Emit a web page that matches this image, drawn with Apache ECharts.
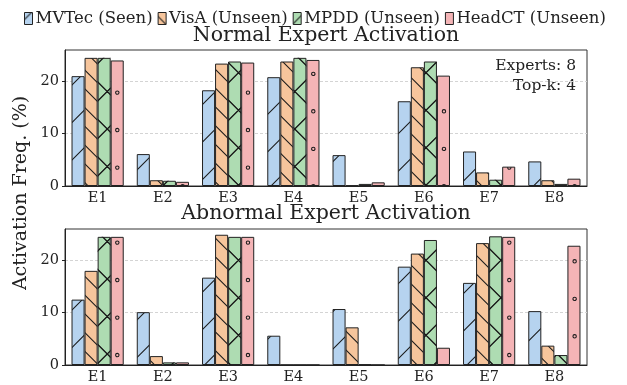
<!DOCTYPE html>
<html><head><meta charset="utf-8">
<script src="https://cdn.jsdelivr.net/npm/echarts@6/dist/echarts.min.js"></script>
<style>html,body{margin:0;padding:0;background:#fff}#c{width:627px;height:385px}</style>
</head><body><div id="c"></div>
<script>
// ---- data ----
const categories = ['E1','E2','E3','E4','E5','E6','E7','E8'];
const seriesNames = ['MVTec (Seen)','VisA (Unseen)','MPDD (Unseen)','HeadCT (Unseen)'];
const normalMVTec  = [21.0, 6.1, 18.3, 20.8, 5.9, 16.2, 6.6, 4.7];
const normalVisA   = [24.5, 1.1, 23.4, 23.8, 0.1, 22.7, 2.6, 1.1];
const normalMPDD   = [24.5, 1.0, 23.8, 24.5, 0.4, 23.8, 1.2, 0.4];
const normalHeadCT = [24.0, 0.8, 23.6, 24.1, 0.7, 21.1, 3.7, 1.4];
const abnormalMVTec  = [12.5, 10.1, 16.7, 5.6, 10.7, 18.8, 15.7, 10.3];
const abnormalVisA   = [18.0, 1.7, 24.9, 0, 7.2, 21.3, 23.3, 3.7];
const abnormalMPDD   = [24.5, 0.5, 24.5, 0, 0.1, 23.9, 24.6, 1.9];
const abnormalHeadCT = [24.5, 0.5, 24.5, 0, 0, 3.3, 24.5, 22.8];
const yTickLabels = [0, 10, 20];
const titles = ['Normal Expert Activation', 'Abnormal Expert Activation'];
const yName = 'Activation Freq. (%)';
const noteLines = ['Experts: 8', 'Top-k: 4'];

// ---- styles ----
const FONT = '"DejaVu Serif", serif';
const colors = ['#b6d3ef', '#f6c59c', '#aedcb2', '#f4b4b6'];
const hatchKinds = ['slash', 'back2', 'cross', 'dots'];
const HATCH = '#1a1a1a';

function makeCanvas(bg, kind) {
  const W = kind === 'dots' ? 56 : 75, H = 75;
  const cv = document.createElement('canvas');
  cv.width = W; cv.height = H;
  const g = cv.getContext('2d');
  g.fillStyle = bg; g.fillRect(0, 0, W, H);
  g.strokeStyle = HATCH; g.lineWidth = 1.05;
  function fam(sign, period, phase) {
    for (let k = -12; k <= 12; k++) {
      const c0 = phase + k * period;
      if (sign > 0) { g.moveTo(-10, c0 + 10); g.lineTo(W + 10, c0 - W - 10); }
      else { g.moveTo(-10, c0 - 10); g.lineTo(W + 10, c0 + W + 10); }
    }
  }
  g.beginPath();
  if (kind === 'slash') fam(1, 37.5, 7);
  else if (kind === 'back2') fam(-1, 18.75, 4);
  else if (kind === 'cross') { fam(1, 37.5, 11.2); fam(-1, 37.5, 21.7); }
  g.stroke();
  if (kind === 'dots') {
    const s = 56 / 3;
    const pts = [];
    for (let j = 0; j < 3; j++) for (let r = 0; r < 2; r++) {
      pts.push([5.3 + j * s, 17.6 + r * 37.5]);
      pts.push([5.3 + s / 2 + j * s, 17.6 + 18.75 + r * 37.5]);
    }
    for (const [px, py] of pts) for (const dx of [-W, 0, W]) for (const dy of [-H, 0, H]) {
      g.beginPath(); g.arc(px + dx, py + dy, 1.7, 0, Math.PI * 2); g.stroke();
    }
  }
  return cv;
}
const patterns = colors.map((c, i) => ({ image: makeCanvas(c, hatchKinds[i]), repeat: 'repeat' }));

// cross-hatch drawn on top of the MPDD bars, positioned through the axes
function crossRender(params, api) {
  const v = api.value(1);
  if (!(v > 0)) return null;
  const cat = api.value(0);
  const base = api.coord([cat, 0]);
  const top = api.coord([cat, v]);
  const w = api.size([1, 0])[0];
  const x0 = base[0], x1 = base[0] + 0.2 * w;
  const y0 = top[1], y1 = base[1];
  const P = 37.5, children = [];
  const st = { stroke: HATCH, lineWidth: 1.05, fill: null };
  for (let s = Math.floor((x0 + y0 - 11.2) / P) * P + 11.2; s <= x1 + y1 + P; s += P)
    children.push({ type: 'line', shape: { x1: x0 - 2, y1: s - x0 + 2, x2: x1 + 2, y2: s - x1 - 2 }, style: st });
  for (let d = Math.floor((y0 - x1 - 21.7) / P) * P + 21.7; d <= y1 - x0 + P; d += P)
    children.push({ type: 'line', shape: { x1: x0 - 2, y1: x0 - 2 + d, x2: x1 + 2, y2: x1 + 2 + d }, style: st });
  return {
    type: 'group',
    clipPath: { type: 'rect', shape: { x: x0, y: y0, width: x1 - x0, height: y1 - y0 } },
    children: children
  };
}

const grids = [
  { left: 65, top: 50, width: 522, height: 136, show: true, borderColor: '#333', borderWidth: 1 },
  { left: 65, top: 229, width: 522, height: 136, show: true, borderColor: '#333', borderWidth: 1 }
];
function xAx(gi) {
  return {
    type: 'category', gridIndex: gi, data: categories,
    axisLine: { lineStyle: { color: '#222', width: 1 } },
    axisTick: { show: false },
    axisLabel: { fontFamily: FONT, fontSize: 14.5, color: '#222', margin: 5 }
  };
}
function yAx(gi) {
  return {
    type: 'value', gridIndex: gi, min: 0, max: 26, interval: 5,
    axisLine: { show: true, lineStyle: { color: '#222', width: 1 } },
    axisTick: { show: true, length: 3, customValues: yTickLabels, lineStyle: { color: '#222' } },
    axisLabel: { fontFamily: FONT, fontSize: 14.5, color: '#222', margin: 6, customValues: yTickLabels },
    splitLine: { show: true, lineStyle: { color: '#d4d4d4', type: [3, 2], width: 1 } }
  };
}
const dataSets = [
  [normalMVTec, normalVisA, normalMPDD, normalHeadCT],
  [abnormalMVTec, abnormalVisA, abnormalMPDD, abnormalHeadCT]
];
const series = [];
dataSets.forEach((sets, gi) => {
  sets.forEach((d, si) => {
    series.push({
      name: seriesNames[si], type: 'bar', xAxisIndex: gi, yAxisIndex: gi, data: d,
      barGap: '0%', barCategoryGap: '20%',
      itemStyle: { color: patterns[si], borderColor: '#222', borderWidth: 1 },
      emphasis: { disabled: true }
    });
  });
  series.push({
    name: 'MPDD hatch', type: 'custom', xAxisIndex: gi, yAxisIndex: gi,
    data: sets[2].map((v, i) => [i, v]), encode: { x: 0, y: 1 },
    renderItem: crossRender, silent: true, z: 3
  });
});

const chart = echarts.init(document.getElementById('c'), null, { renderer: 'canvas' });
chart.setOption({
  animation: false,
  backgroundColor: '#fff',
  legend: {
    data: seriesNames, left: 19, top: 5, itemWidth: 8, itemHeight: 12, itemGap: 5,
    icon: 'rect',
    textStyle: { fontFamily: FONT, fontSize: 16.5, color: '#222', padding: [0, 0, 0, -2] },
    itemStyle: { borderColor: '#222', borderWidth: 1 }
  },
  grid: grids,
  xAxis: [xAx(0), xAx(1)],
  yAxis: [yAx(0), yAx(1)],
  series: series,
  graphic: [
    { type: 'text', style: { text: titles[0], x: 326, y: 36, align: 'center', verticalAlign: 'middle', font: '20.5px ' + FONT, fill: '#222' } },
    { type: 'text', style: { text: titles[1], x: 326, y: 214, align: 'center', verticalAlign: 'middle', font: '20.5px ' + FONT, fill: '#222' } },
    { type: 'text', x: 21, y: 193, rotation: Math.PI / 2, style: { text: yName, x: 0, y: 0, align: 'center', verticalAlign: 'middle', font: '19px ' + FONT, fill: '#222' } },
    { type: 'text', style: { text: noteLines[0], x: 576, y: 65.5, align: 'right', verticalAlign: 'middle', font: '15.5px ' + FONT, fill: '#222' } },
    { type: 'text', style: { text: noteLines[1], x: 576, y: 86, align: 'right', verticalAlign: 'middle', font: '15.5px ' + FONT, fill: '#222' } }
  ]
});
</script></body></html>
